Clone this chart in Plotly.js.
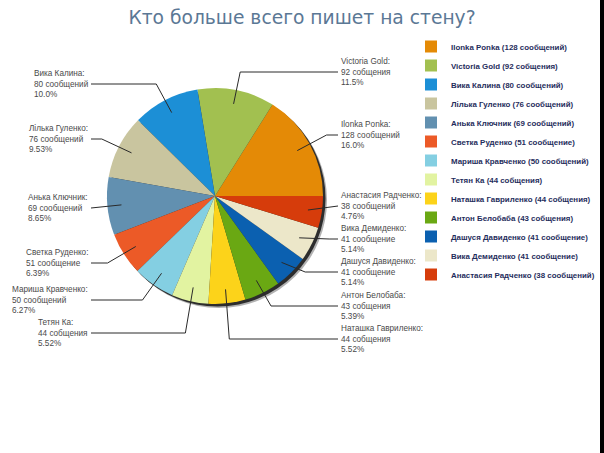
<!DOCTYPE html>
<html>
<head>
<meta charset="utf-8">
<script src="https://cdn.plot.ly/plotly-3.0.1.min.js"></script>
<style>html,body{margin:0;padding:0;background:#fff;}#chart{width:604px;height:453px;}</style>
</head>
<body>
<div id="chart"></div>
<script>
// ---- data ----
const names = ["Ilonka Ponka", "Victoria Gold", "Вика Калина", "Лілька Гуленко", "Анька Ключник",
  "Светка Руденко", "Мариша Кравченко", "Тетян Ка", "Наташка Гавриленко", "Антон Белобаба",
  "Дашуся Давиденко", "Вика Демиденко", "Анастасия Радченко"];
const values = [128, 92, 80, 76, 69, 51, 50, 44, 44, 43, 41, 41, 38];
const wordForms = ["сообщений", "собщения", "сообщений", "сообщений", "сообщений",
  "сообщение", "сообщений", "собщения", "собщения", "собщения",
  "сообщение", "сообщение", "сообщений"];

// ---- styles / layout constants ----
const colors = ["#E48A06", "#A2C050", "#1C8FD6", "#C9C59F", "#6290B0", "#EC5A27", "#84CFE2",
  "#E2F3A1", "#FCD31A", "#6AA813", "#0B60B0", "#ECE7C9", "#D63C0B"];
const W = 604, H = 453;
const cx = 215, cy = 196, R = 108;
// vertical position (px) of each outside label's middle line, in data order
const labelY = [135, 72, 84, 139, 208, 263, 300, 333, 339, 306, 272, 239, 206];
const rightEdge = 339, leftEdge = 91;

const px = x => x / W;
const py = y => 1 - y / H;

const total = values.reduce((a, b) => a + b, 0);
function pctText(v) {
  const p = v / total * 100;
  if (p >= 10) return (Math.floor(p * 10 + 1e-9) / 10).toFixed(1) + "%";
  return (Math.floor(p * 100 + 1e-9) / 100).toFixed(2) + "%";
}
const legendLabels = names.map((n, i) => n + " (" + values[i] + " " + wordForms[i] + ")");

const dom = {x: [px(cx - R), px(cx + R)], y: [py(cy + R), py(cy - R)]};
const shDom = (dx, dy) => ({x: [px(cx - R + dx), px(cx + R + dx)], y: [py(cy + R + dy), py(cy - R + dy)]});
// first slice starts at 3 o'clock and runs counterclockwise
const rotation = 90 - values[0] / total * 360;

const traces = [
  {type: "pie", values: [1], labels: ["s1"], domain: shDom(4, 4), marker: {colors: ["rgba(0,0,0,0.3)"]},
   textinfo: "none", hoverinfo: "skip", showlegend: false, sort: false},
  {type: "pie", values: [1], labels: ["s2"], domain: shDom(2.5, 2.5), marker: {colors: ["rgba(0,0,0,0.75)"]},
   textinfo: "none", hoverinfo: "skip", showlegend: false, sort: false},
  {type: "pie", labels: legendLabels, values: values, domain: dom, sort: false,
   direction: "counterclockwise", rotation: rotation, textinfo: "none", hoverinfo: "label",
   marker: {colors: colors, line: {width: 0}}}
];

// outside labels + leader lines computed from slice mid-angles
const annotations = [], shapes = [];
let cum = 0;
values.forEach((v, i) => {
  const mid = (cum + v / 2) / total * 2 * Math.PI; // counterclockwise from 3 o'clock
  cum += v;
  const c = Math.cos(mid), s = Math.sin(mid);
  const right = c >= 0;
  const ix = cx + 0.87 * R * c, iy = cy - 0.87 * R * s;
  let ex = cx + 1.18 * R * c;
  ex = right ? Math.min(ex, rightEdge - 1) : Math.max(ex, leftEdge);
  const ly = labelY[i];
  const edge = right ? rightEdge - 1 : leftEdge;
  shapes.push({type: "path", xref: "paper", yref: "paper",
    path: "M" + px(ix) + "," + py(iy) + " L" + px(ex) + "," + py(ly) + " L" + px(edge) + "," + py(ly),
    line: {color: "#2a2a2a", width: 1}});
  annotations.push({xref: "paper", yref: "paper", x: px(right ? rightEdge : leftEdge - 1), y: py(ly),
    xanchor: right ? "left" : "right", yanchor: "middle", align: "left", showarrow: false,
    text: names[i] + ":<br>" + v + " " + wordForms[i] + "<br>" + pctText(v),
    font: {family: "Liberation Sans", size: 8.2, color: "#4a4a4a"}});
});
// dark strip at right edge of the picture
shapes.push({type: "rect", xref: "paper", yref: "paper", x0: px(600), x1: 1, y0: 0, y1: 1,
  fillcolor: "#000", line: {width: 0}});

const layout = {
  width: W, height: H,
  margin: {l: 0, r: 0, t: 0, b: 0},
  paper_bgcolor: "#fff",
  title: {text: "Кто больше всего пишет на стену?", x: 0.5, xanchor: "center",
    y: py(17), yref: "container", yanchor: "middle",
    font: {family: "DejaVu Sans", size: 18.7, color: "#5B7895"}},
  showlegend: true,
  legend: {x: px(411), xanchor: "left", y: py(32), yanchor: "top", traceorder: "normal",
    font: {family: "Liberation Sans", size: 7.9, color: "#1F2D5C", weight: "bold"},
    bgcolor: "rgba(0,0,0,0)"},
  annotations: annotations,
  shapes: shapes
};
Plotly.newPlot("chart", traces, layout, {displayModeBar: false, staticPlot: true});
</script>
</body>
</html>
